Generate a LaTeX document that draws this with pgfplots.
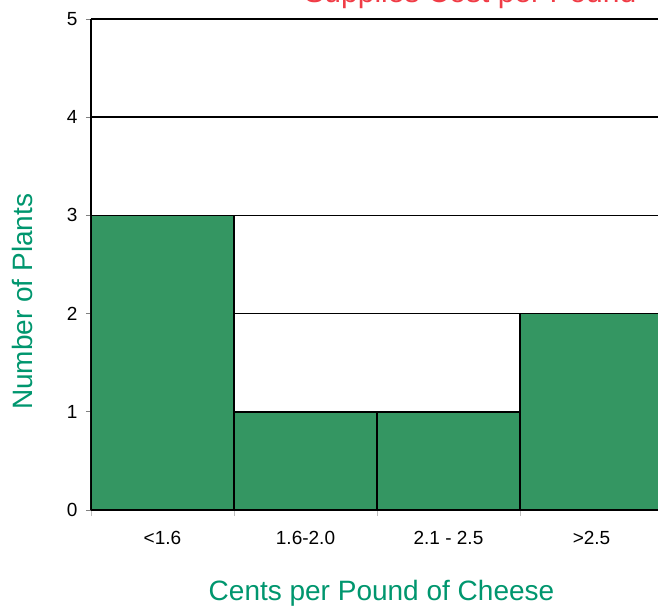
\documentclass[border=0pt]{standalone}
\usepackage{pgfplots}
\pgfplotsset{compat=1.18}
\usepackage{fontspec}
\setmainfont{Liberation Sans}
\definecolor{barfill}{RGB}{52,150,98}
\definecolor{labgreen}{RGB}{0,150,110}
\definecolor{titlered}{RGB}{240,60,70}
\begin{document}
\begin{tikzpicture}[x=1pt,y=1pt]
% picture is cut at the top and right like the reference
\path[use as bounding box, clip] (-91,-96) rectangle (567,510);
\begin{axis}[
    at={(0,0)}, anchor=south west,
    scale only axis,
    width=567pt, height=491pt,
    ybar, bar width=1, bar shift=0,
    xmin=-0.5, xmax=3.465,
    ymin=0, ymax=5,
    ytick={0,1,2,3,4,5},
    xtick={0,1,2,3},
    xticklabels={<1.6, 1.6-2.0, 2.1 - 2.5, >2.5},
    minor xtick={-0.5,0.5,1.5,2.5},
    tick align=outside,
    major tick length=5pt, minor tick length=6pt,
    major x tick style={draw=none},
    minor x tick style={draw=gray!50, line width=0.8pt},
    ytick style={draw=gray, line width=0.8pt},
    ymajorgrids=true,
    grid style={black, line width=1.6pt},
    axis x line*=bottom, axis y line*=left,
    axis line style={black, line width=1.7pt},
    /pgf/number format/assume math mode=true,
    tick label style={font=\fontsize{19}{22}\selectfont},
    xticklabel style={yshift=-13pt},
    yticklabel style={xshift=-5pt},
    xlabel={Cents per Pound of Cheese},
    ylabel={Number of Plants},
    label style={font=\fontsize{28}{33}\selectfont, text=labgreen},
    xlabel style={at={(rel axis cs:0.5,0)}, anchor=base, xshift=7pt, yshift=-90pt},
    ylabel style={at={(rel axis cs:0,0.424)}, anchor=center, yshift=69pt},
    title={Supplies Cost per Pound},
    title style={at={(rel axis cs:0.968,1.022)}, anchor=base east,
                 font=\fontsize{30}{36}\selectfont, text=titlered},
]
\addplot[fill=barfill, draw=black, line width=1.6pt] coordinates {
(0,3)
(1,1)
(2,1)
(3,2)
};
\end{axis}
\end{tikzpicture}
\end{document}
